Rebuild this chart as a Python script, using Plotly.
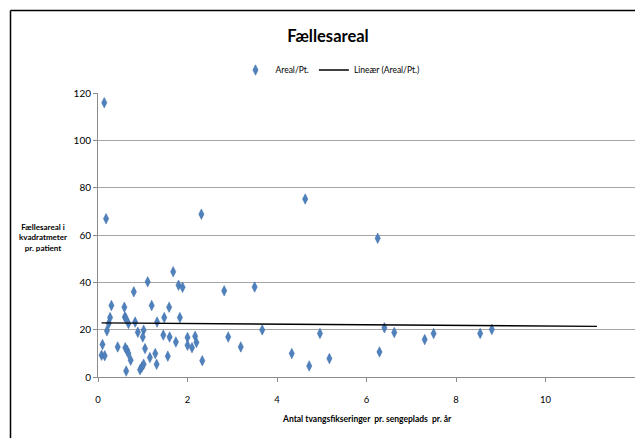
import numpy as np
import plotly.graph_objects as go

# ---- data ----
antal = [0.14, 0.18, 2.31, 4.63, 6.25,
         0.10, 0.08, 0.15, 0.20, 0.24, 0.27, 0.30, 0.44, 0.59, 0.60, 0.62, 0.68,
         0.80, 0.83, 0.89, 1.02, 1.00, 0.61, 0.65, 0.68, 0.73, 0.63, 0.94, 0.98,
         1.02, 1.05, 1.11, 1.16, 1.20, 1.28, 1.31, 1.32, 1.48, 1.46, 1.56, 1.59,
         1.60, 1.68, 1.74, 1.80, 1.89, 1.83, 2.00, 2.00, 2.10, 2.17, 2.20, 2.33,
         2.82, 2.91, 3.19, 3.50, 3.67,
         4.33, 4.72, 4.96, 5.17, 6.29, 6.40, 6.62, 7.30, 7.50, 8.54, 8.80]
areal = [115.9, 66.9, 68.8, 75.2, 58.6,
         13.7, 9.2, 9.0, 19.5, 22.6, 25.1, 30.2, 12.7, 29.5, 25.3, 24.9, 22.6,
         36.0, 23.2, 18.9, 19.8, 16.9, 12.4, 11.3, 9.9, 7.1, 2.5, 3.1, 4.2,
         5.4, 12.0, 40.2, 8.2, 30.2, 9.9, 5.4, 23.2, 25.1, 17.7, 8.8, 29.5,
         16.9, 44.5, 14.8, 38.8, 37.9, 25.1, 16.7, 13.4, 12.4, 17.2, 14.6, 6.9,
         36.4, 16.9, 12.7, 38.0, 19.9,
         9.9, 4.7, 18.4, 7.8, 10.6, 20.8, 18.8, 15.8, 18.4, 18.4, 20.1]

x_ticks = [0, 2, 4, 6, 8, 10, 12]
y_ticks = [0, 20, 40, 60, 80, 100, 120]

TREND_FORWARD = 2.35  # Excel trendline forecast forward

title_text = "Fællesareal"
x_title = "Antal tvangsfikseringer  pr. sengeplads  pr. år"
y_title = "Fællesareal i<br>kvadratmeter<br>pr. patient"
series_name = "Areal/Pt."
trend_name = "Lineær (Areal/Pt.)"

FONT = "Lato, Liberation Sans, sans-serif"

# ---- trendline via least squares ----
xa = np.array(antal)
ya = np.array(areal)
slope, intercept = np.polyfit(xa, ya, 1)
tx = np.array([xa.min(), xa.max() + TREND_FORWARD])
ty = slope * tx + intercept

W, H = 635, 438
ML, MR, MT, MB = 98, 0, 93, 61
PW = W - ML - MR
PH = H - MT - MB

def px_to_paper_x(px):
    return (px - ML) / PW

def px_to_paper_y(py):
    return (H - MB - py) / PH

fig = go.Figure()
fig.add_trace(go.Scatter(
    x=antal, y=areal, mode="markers", name=series_name,
    marker=dict(symbol="diamond-tall", size=7.5, color="#4F81BD",
                line=dict(color="#3D6DA8", width=0.5)),
    cliponaxis=False,
))
fig.add_trace(go.Scatter(
    x=tx, y=ty, mode="lines", name=trend_name,
    line=dict(color="#000000", width=1.4),
))

fig.update_layout(
    width=W, height=H,
    margin=dict(l=ML, r=MR, t=MT, b=MB, autoexpand=False),
    paper_bgcolor="white", plot_bgcolor="white",
    font=dict(family=FONT, color="#000000", size=10),
    title=dict(text="<b>" + title_text + "</b>", x=328 / W, xanchor="center",
               y=1 - 36 / H, yanchor="middle", yref="container",
               font=dict(family=FONT, size=16.5, color="#000000")),
    showlegend=True,
    legend=dict(orientation="h", x=px_to_paper_x(330), xanchor="center",
                y=px_to_paper_y(70), yanchor="middle",
                font=dict(family=FONT, size=8.5), itemwidth=30,
                tracegroupgap=0, bgcolor="rgba(0,0,0,0)"),
    xaxis=dict(range=[0, 12], tickvals=x_ticks, ticktext=[str(v) for v in x_ticks],
               showgrid=False, zeroline=False, showline=True,
               linecolor="#8C8C8C", linewidth=1, ticks="outside", ticklen=4,
               tickcolor="#8C8C8C", tickfont=dict(size=9.5, family=FONT),
               ticklabelstandoff=10),
    yaxis=dict(range=[0, 120], tickvals=y_ticks, showgrid=True,
               gridcolor="#A6A6A6", gridwidth=1, zeroline=False, showline=True,
               linecolor="#8C8C8C", linewidth=1, ticks="outside", ticklen=4,
               tickcolor="#8C8C8C", tickfont=dict(size=10, family=FONT)),
    shapes=[
        dict(type="line", xref="paper", yref="paper",
             x0=px_to_paper_x(10.5), x1=px_to_paper_x(10.5),
             y0=px_to_paper_y(440), y1=px_to_paper_y(10.5),
             line=dict(color="#000000", width=1.5), layer="above"),
        dict(type="line", xref="paper", yref="paper",
             x0=px_to_paper_x(10.5), x1=px_to_paper_x(640),
             y0=px_to_paper_y(10.5), y1=px_to_paper_y(10.5),
             line=dict(color="#000000", width=1.5), layer="above"),
    ],
    annotations=[
        dict(text="<b>" + y_title + "</b>", xref="paper", yref="paper",
             x=px_to_paper_x(43), y=px_to_paper_y(237), showarrow=False,
             xanchor="center", yanchor="middle", align="center",
             font=dict(family=FONT, size=8, color="#000000")),
        dict(text="<b>" + x_title + "</b>", xref="paper", yref="paper",
             x=px_to_paper_x(367), y=px_to_paper_y(419), showarrow=False,
             xanchor="center", yanchor="middle",
             font=dict(family=FONT, size=8.5, color="#000000")),
    ],
)

fig.write_html("out.html")
